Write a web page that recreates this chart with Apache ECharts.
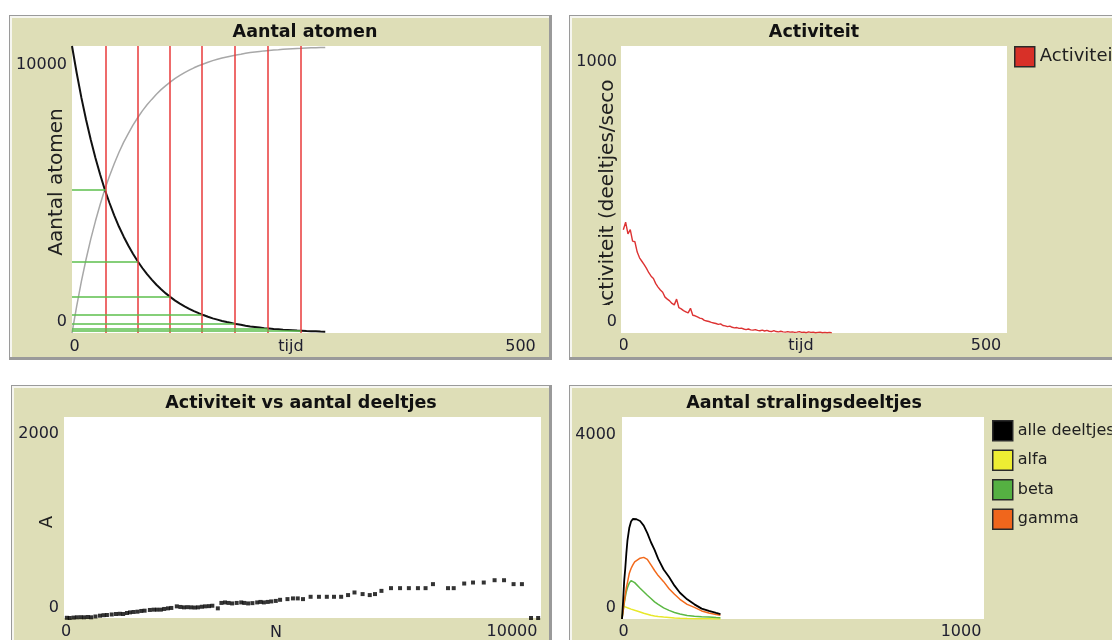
<!DOCTYPE html>
<html><head><meta charset="utf-8">
<script src="https://cdn.jsdelivr.net/npm/echarts@6/dist/echarts.min.js"></script>
<style>html,body{margin:0;padding:0;background:#fff}#c{width:1112px;height:640px}</style>
</head><body><div id="c"></div>
<script>
// ---- Panel 1: Aantal atomen ----
const atomT = [0,5,10,15,20,25,30,35,40,45,50,55,60,65,70,75,80,85,90,95,100,105,110,115,120,125,130,135,140,145,150,155,160,165,170,175,180,185,190,195,200,205,210,215,220,225,230,235,240,245,250,255,260,265,270];
const atomN = [10000,9060,8200,7430,6730,6100,5520,4990,4530,4100,3710,3365,3050,2760,2500,2265,2050,1860,1680,1525,1380,1250,1130,1025,930,840,760,690,625,565,510,465,420,380,345,310,285,255,230,210,190,170,155,140,130,115,105,95,85,80,70,65,60,50,45];
const atomD = [0,940,1800,2570,3270,3900,4480,5010,5470,5900,6290,6640,6950,7240,7500,7740,7950,8140,8320,8480,8620,8750,8870,8975,9070,9160,9240,9310,9375,9435,9490,9535,9580,9620,9655,9690,9715,9745,9770,9790,9810,9830,9845,9860,9870,9885,9895,9905,9915,9920,9930,9935,9940,9948,9952];
const halfTimes = [36,70,104,138,173,209,244];
const halfLevels = [5000,2500,1250,625,312,156,78];
// ---- Panel 2: Activiteit ----
const actT = [3,6,9,12,15,18,21,24,27,30,33,36,39,42,45,48,51,54,57,60,63,66,69,72,75,78,81,84,87,90,93,96,99,102,105,108,111,114,117,120,123,126,129,132,135,138,141,144,147,150,153,156,159,162,165,168,171,174,177,180,183,186,189,192,195,198,201,204,207,210,213,216,219,222,225,228,231,234,237,240,243,246,249,252,255,258,261,264,267,270,273];
const actA = [360,386,345,360,320,318,282,262,250,238,225,210,198,190,172,160,150,142,125,118,112,103,98,118,88,84,78,74,70,86,62,60,56,52,50,44,42,40,37,35,33,30,32,26,25,22,24,20,18,19,16,17,14,12,14,11,10,12,9,8,10,7,9,6,5,8,5,4,6,4,3,5,3,4,2,3,5,2,3,1,4,2,3,1,2,3,1,2,1,2,1];
// ---- Panel 3: Activiteit vs aantal deeltjes ----
const scatN = [9940,9790,9600,9425,9225,9027,8800,8575,8390,8170,8050,7735,7580,7420,7230,7045,6855,6655,6520,6410,6260,6090,5955,5810,5660,5510,5345,5170,5010,4900,4800,4685,4530,4440,4345,4270,4190,4120,4050,3950,3860,3780,3715,3620,3525,3450,3375,3300,3225,3110,3040,2960,2890,2810,2740,2665,2590,2515,2440,2365,2250,2180,2100,2030,1950,1880,1800,1690,1620,1540,1460,1385,1320,1240,1170,1090,1000,900,830,755,660,570,500,420,350,270,200,120,60];
const scatA = [0,0,337,337,376,376,353,353,343,297,297,337,297,297,297,297,297,270,238,228,238,254,228,211,211,211,211,211,188,195,195,188,181,170,165,160,155,160,155,148,145,150,155,150,145,150,155,150,96,122,118,116,112,106,104,106,108,106,110,116,100,96,90,83,83,83,80,73,70,63,60,56,50,40,42,40,35,30,28,23,15,7,10,7,8,7,4,0,2];
// ---- Panel 4: Aantal stralingsdeeltjes ----
const radT = [0,3,6,9,12,15,20,25,30,35,40,50,60,70,80,90,100,115,130,145,160,180,200,220,240,260,272];
const radAll = [0,350,750,1000,1300,1550,1800,1930,1980,1985,1975,1940,1850,1700,1520,1370,1190,980,830,660,520,390,290,205,160,120,98];
const radAlfa = [0,260,250,240,230,222,210,195,180,172,165,140,115,95,75,60,50,38,30,20,15,10,6,4,3,2,1];
const radBeta = [0,150,300,430,540,620,710,760,745,720,700,610,540,470,405,340,290,220,170,130,100,70,55,45,38,28,25];
const radGamma = [0,150,330,480,620,722,900,1000,1070,1130,1160,1205,1220,1180,1070,960,860,740,600,490,390,290,230,160,120,90,75];

const titles = ['Aantal atomen','Activiteit','Activiteit vs aantal deeltjes','Aantal stralingsdeeltjes'];
const legendNames = ['alle deeltjes','alfa','beta','gamma'];

const BEIGE = '#dedeb7';
const FONT = 'DejaVu Sans';
const TICK = {fontFamily: FONT, fontSize: 16, color: '#202030'};
const zip = (a, b) => a.map((v, i) => [v, b[i]]);

function xAx(gi, max, padL, padR, margin) {
  return {
    type: 'value', gridIndex: gi, min: 0, max: max, interval: max,
    axisLine: {show: false}, axisTick: {show: false}, splitLine: {show: false},
    axisLabel: {
      margin: margin, showMinLabel: true, showMaxLabel: true,
      formatter: v => v === 0 ? '{mn|0}' : '{mx|' + v + '}',
      rich: {mn: Object.assign({padding: [0, 0, 0, padL]}, TICK), mx: Object.assign({padding: [0, padR, 0, 0]}, TICK)}
    }
  };
}
function yAx(gi, max, padT, padB, margin, z) {
  return {
    type: 'value', gridIndex: gi, min: 0, max: max, interval: max, z: z || 0,
    axisLine: {show: false}, axisTick: {show: false}, splitLine: {show: false},
    axisLabel: {
      margin: margin, showMinLabel: true, showMaxLabel: true,
      formatter: v => v === 0 ? '{mn|0}' : '{mx|' + v + '}',
      rich: {mn: Object.assign({padding: [0, 0, padB, 0]}, TICK), mx: Object.assign({padding: [padT, 0, 0, 0]}, TICK)}
    }
  };
}
function frame(x, y, w, h) {
  return [
    {type: 'rect', z: -10, silent: true, shape: {x: x, y: y, width: w, height: h}, style: {fill: '#9a9a9a'}},
    {type: 'rect', z: -9, silent: true, shape: {x: x + 1, y: y + 1, width: w - 4, height: h - 4}, style: {fill: '#f6f6f0'}},
    {type: 'rect', z: -8, silent: true, shape: {x: x + 3, y: y + 3, width: w - 6, height: h - 6}, style: {fill: BEIGE}}
  ];
}
function txt(text, x, y, size, opts) {
  opts = opts || {};
  return {
    type: 'text', x: x, y: y, z: opts.z || 3, rotation: opts.rot || 0, silent: true,
    style: {text: text, fontFamily: FONT, fontSize: size, fontWeight: opts.bold ? 'bold' : 'normal',
      fill: opts.color || '#202020', textAlign: 'center', textVerticalAlign: 'middle', align: 'center', verticalAlign: 'middle'}
  };
}

const redLines = halfTimes.map(t => ({xAxis: t}));
const greenLines = halfTimes.map((t, i) => [{coord: [0, halfLevels[i]]}, {coord: [t, halfLevels[i]]}]);

const graphics = [].concat(
  frame(9, 15, 543, 345), frame(569, 15, 560, 345), frame(11, 385, 541, 270), frame(569, 385, 560, 270),
  [
    txt(titles[0], 305, 32, 17.5, {bold: true, color: '#111'}),
    txt(titles[1], 814, 32, 17.5, {bold: true, color: '#111'}),
    txt(titles[2], 301, 403, 17.5, {bold: true, color: '#111'}),
    txt(titles[3], 804, 403, 17.5, {bold: true, color: '#111'}),
    txt('Aantal atomen', 57, 182, 20, {rot: Math.PI / 2}),
    txt('tijd', 291, 346.5, 16, {color: '#202030'}),
    txt('Activiteit (deeltjes/seconde)', 608, 174, 20, {rot: Math.PI / 2}),
    {type: 'rect', z: 4, silent: true, shape: {x: 590, y: 19, width: 30, height: 61}, style: {fill: BEIGE}},
    {type: 'rect', z: 4, silent: true, shape: {x: 590, y: 305, width: 30, height: 52}, style: {fill: BEIGE}},
    txt('tijd', 801, 345.5, 16, {color: '#202030'}),
    txt('A', 47, 522, 18, {rot: Math.PI / 2}),
    txt('N', 276, 633, 16, {color: '#202030'})
  ]
);

const lineBase = {type: 'line', showSymbol: false, symbol: 'none', silent: true};

const option = {
  animation: false,
  backgroundColor: '#ffffff',
  grid: [
    {left: 72, top: 46, width: 469, height: 287, show: true, backgroundColor: '#fff', borderWidth: 0},
    {left: 621, top: 46, width: 386, height: 287, show: true, backgroundColor: '#fff', borderWidth: 0},
    {left: 64, top: 417, width: 477, height: 202, show: true, backgroundColor: '#fff', borderWidth: 0},
    {left: 622, top: 417, width: 362, height: 203, show: true, backgroundColor: '#fff', borderWidth: 0}
  ],
  xAxis: [xAx(0, 500, 5, 41, 5.5), xAx(1, 500, 5, 42, 4.5), xAx(2, 10000, 4, 58, 6), xAx(3, 1000, 3, 46, 5)],
  yAxis: [yAx(0, 10000, 38, 23, 5), yAx(1, 1000, 32, 23, 4, 6), yAx(2, 2000, 33, 20, 5), yAx(3, 4000, 36, 22, 6)],
  legend: [
    {data: ['Activiteit'], left: 1014, top: 46, orient: 'vertical', icon: 'rect', itemWidth: 20, itemHeight: 20,
     itemGap: 8, padding: 0, selectedMode: false,
     itemStyle: {borderColor: '#2a2a2a', borderWidth: 1.5},
     textStyle: {fontFamily: FONT, fontSize: 18, color: '#202020'}},
    {data: legendNames, left: 992, top: 420, orient: 'vertical', icon: 'rect', itemWidth: 20, itemHeight: 20,
     itemGap: 8, padding: 0, selectedMode: false,
     itemStyle: {borderColor: '#2a2a2a', borderWidth: 1.5},
     textStyle: {fontFamily: FONT, fontSize: 16, color: '#202020'}}
  ],
  series: [
    Object.assign({}, lineBase, {name: 'halveringstijd', xAxisIndex: 0, yAxisIndex: 0, z: 2,
      data: zip(atomT, atomD), lineStyle: {width: 0, opacity: 0},
      markLine: {silent: true, symbol: ['none', 'none'], label: {show: false}, animation: false,
        lineStyle: {color: '#e83a3a', width: 1.5, type: 'solid'}, data: redLines}}),
    Object.assign({}, lineBase, {name: 'halve waarde', xAxisIndex: 0, yAxisIndex: 0, z: 2,
      data: zip(atomT, atomD), lineStyle: {width: 0, opacity: 0},
      markLine: {silent: true, symbol: ['none', 'none'], label: {show: false}, animation: false,
        lineStyle: {color: '#5cbf4c', width: 1.5, type: 'solid'}, data: greenLines}}),
    Object.assign({}, lineBase, {name: 'vervalproduct', xAxisIndex: 0, yAxisIndex: 0, z: 3,
      data: zip(atomT, atomD), lineStyle: {color: '#a8a8a8', width: 1.5}, itemStyle: {color: '#a8a8a8'}}),
    Object.assign({}, lineBase, {name: 'moederkernen', xAxisIndex: 0, yAxisIndex: 0, z: 4,
      data: zip(atomT, atomN), lineStyle: {color: '#111', width: 2}, itemStyle: {color: '#111'}}),
    Object.assign({}, lineBase, {name: 'Activiteit', xAxisIndex: 1, yAxisIndex: 1, z: 3,
      data: zip(actT, actA), lineStyle: {color: '#dd3333', width: 1.4}, itemStyle: {color: '#d83028'}}),
    {type: 'scatter', name: 'A(N)', xAxisIndex: 2, yAxisIndex: 2, symbol: 'rect', symbolSize: 4, silent: true,
      itemStyle: {color: '#000'}, data: zip(scatN, scatA)},
    Object.assign({}, lineBase, {name: 'alfa', xAxisIndex: 3, yAxisIndex: 3, z: 3,
      data: zip(radT, radAlfa), lineStyle: {color: '#e8e82a', width: 1.5}, itemStyle: {color: '#eeee33'}}),
    Object.assign({}, lineBase, {name: 'beta', xAxisIndex: 3, yAxisIndex: 3, z: 3,
      data: zip(radT, radBeta), lineStyle: {color: '#5cb844', width: 1.5}, itemStyle: {color: '#55b042'}}),
    Object.assign({}, lineBase, {name: 'gamma', xAxisIndex: 3, yAxisIndex: 3, z: 3,
      data: zip(radT, radGamma), lineStyle: {color: '#f26a1c', width: 1.5}, itemStyle: {color: '#f0661c'}}),
    Object.assign({}, lineBase, {name: 'alle deeltjes', xAxisIndex: 3, yAxisIndex: 3, z: 4,
      data: zip(radT, radAll), lineStyle: {color: '#000', width: 1.8}, itemStyle: {color: '#000'}})
  ],
  graphic: {elements: graphics}
};

const chart = echarts.init(document.getElementById('c'), null, {renderer: 'canvas'});
chart.setOption(option);
</script>
</body></html>
